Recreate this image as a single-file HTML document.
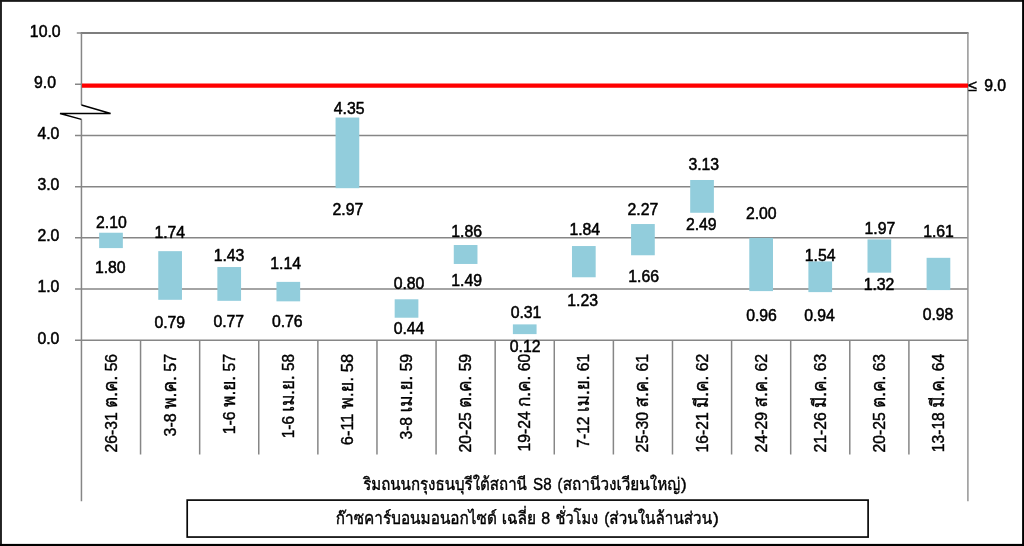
<!DOCTYPE html>
<html lang="th"><head><meta charset="utf-8"><title>CO 8hr S8</title>
<style>
html,body{margin:0;padding:0;background:#fff}
body{width:1024px;height:546px;overflow:hidden}
svg{display:block}
text{font-family:"Liberation Sans","Loma","Noto Sans Thai",sans-serif;fill:#000;stroke:#000;stroke-width:0.4px}
.t{font-size:15.8px;stroke-width:0.5px}
.c{font-size:16px}
.h{font-size:17.3px}
.l{font-size:16px}
.g{stroke:#868686;stroke-width:1.5;fill:none}
</style></head><body>
<svg width="1024" height="546" viewBox="0 0 1024 546">
<rect x="0" y="0" width="1024" height="546" fill="#fff"/>
<rect x="0" y="0" width="1.95" height="546" fill="#222"/>
<rect x="0" y="0" width="1024" height="1.85" fill="#181818"/>
<rect x="1022.1" y="0" width="1.9" height="546" fill="#000"/>
<rect x="0" y="543.9" width="1024" height="2.1" fill="#000"/>

<line class="g" x1="75" y1="340.25" x2="968.0" y2="340.25"/>
<line class="g" x1="75" y1="289.05" x2="968.0" y2="289.05"/>
<line class="g" x1="75" y1="237.85" x2="968.0" y2="237.85"/>
<line class="g" x1="75" y1="186.65" x2="968.0" y2="186.65"/>
<line class="g" x1="75" y1="135.45" x2="968.0" y2="135.45"/>
<line class="g" x1="75" y1="84.25" x2="81.45" y2="84.25"/>
<line x1="76.8" y1="33" x2="81.45" y2="33" stroke="#959595" stroke-width="1.6"/>
<line x1="80.7" y1="32.95" x2="968.6" y2="32.95" stroke="#7e7e7e" stroke-width="2"/>
<line class="g" x1="81.45" y1="33" x2="81.45" y2="105"/>
<line class="g" x1="81.45" y1="119.4" x2="81.45" y2="501.25"/>
<line x1="967.9" y1="33" x2="967.9" y2="501.25" stroke="#959595" stroke-width="1.5"/>
<line class="g" x1="140.55" y1="340.25" x2="140.55" y2="454.5"/>
<line class="g" x1="199.66" y1="340.25" x2="199.66" y2="454.5"/>
<line class="g" x1="258.76" y1="340.25" x2="258.76" y2="454.5"/>
<line class="g" x1="317.86" y1="340.25" x2="317.86" y2="454.5"/>
<line class="g" x1="376.97" y1="340.25" x2="376.97" y2="454.5"/>
<line class="g" x1="436.07" y1="340.25" x2="436.07" y2="454.5"/>
<line class="g" x1="495.17" y1="340.25" x2="495.17" y2="454.5"/>
<line class="g" x1="554.28" y1="340.25" x2="554.28" y2="454.5"/>
<line class="g" x1="613.38" y1="340.25" x2="613.38" y2="454.5"/>
<line class="g" x1="672.48" y1="340.25" x2="672.48" y2="454.5"/>
<line class="g" x1="731.59" y1="340.25" x2="731.59" y2="454.5"/>
<line class="g" x1="790.69" y1="340.25" x2="790.69" y2="454.5"/>
<line class="g" x1="849.79" y1="340.25" x2="849.79" y2="454.5"/>
<line class="g" x1="908.90" y1="340.25" x2="908.90" y2="454.5"/>
<rect x="99.15" y="232.73" width="23.7" height="15.36" fill="#92CDDC"/>
<rect x="158.26" y="251.16" width="23.7" height="48.64" fill="#92CDDC"/>
<rect x="217.36" y="267.03" width="23.7" height="33.79" fill="#92CDDC"/>
<rect x="276.46" y="281.88" width="23.7" height="19.46" fill="#92CDDC"/>
<rect x="335.56" y="117.53" width="23.7" height="70.66" fill="#92CDDC"/>
<rect x="394.67" y="299.29" width="23.7" height="18.43" fill="#92CDDC"/>
<rect x="453.77" y="245.02" width="23.7" height="18.94" fill="#92CDDC"/>
<rect x="512.88" y="324.38" width="23.7" height="9.73" fill="#92CDDC"/>
<rect x="571.98" y="246.04" width="23.7" height="31.23" fill="#92CDDC"/>
<rect x="631.08" y="224.03" width="23.7" height="31.23" fill="#92CDDC"/>
<rect x="690.19" y="179.99" width="23.7" height="32.77" fill="#92CDDC"/>
<rect x="749.29" y="237.85" width="23.7" height="53.25" fill="#92CDDC"/>
<rect x="808.39" y="261.40" width="23.7" height="30.72" fill="#92CDDC"/>
<rect x="867.50" y="239.39" width="23.7" height="33.28" fill="#92CDDC"/>
<rect x="926.60" y="257.82" width="23.7" height="32.26" fill="#92CDDC"/>
<line x1="81.95" y1="85.6" x2="968.0" y2="85.6" stroke="#FF0000" stroke-width="4.2"/>
<polyline points="81.45,105 110.6,113.5 60,113.5 81.45,119.4" fill="none" stroke="#000" stroke-width="1.5" stroke-linejoin="miter"/>
<text class="t" transform="translate(59.40,343.55) scale(1,1)" text-anchor="end">0.0</text>
<text class="t" transform="translate(59.40,292.30) scale(1,1)" text-anchor="end">1.0</text>
<text class="t" transform="translate(59.40,241.05) scale(1,1)" text-anchor="end">2.0</text>
<text class="t" transform="translate(59.40,189.80) scale(1,1)" text-anchor="end">3.0</text>
<text class="t" transform="translate(59.40,138.75) scale(1,1)" text-anchor="end">4.0</text>
<text class="t" transform="translate(56.00,88.10) scale(1,1)" text-anchor="end">9.0</text>
<text class="t" transform="translate(60.60,36.50) scale(1,1)" text-anchor="end">10.0</text>
<text class="t" transform="translate(968.3,91) scale(1,1)" text-anchor="start">≤<tspan x="15.9">9.0</tspan></text>
<text class="t" transform="translate(111.4,228) scale(1,1)" text-anchor="middle">2.10</text>
<text class="t" transform="translate(110.25,272.75) scale(1,1)" text-anchor="middle">1.80</text>
<text class="t" transform="translate(169.75,237.75) scale(1,1)" text-anchor="middle">1.74</text>
<text class="t" transform="translate(169.75,328.25) scale(1,1)" text-anchor="middle">0.79</text>
<text class="t" transform="translate(229,261) scale(1,1)" text-anchor="middle">1.43</text>
<text class="t" transform="translate(228.75,327.25) scale(1,1)" text-anchor="middle">0.77</text>
<text class="t" transform="translate(285.6,269) scale(1,1)" text-anchor="middle">1.14</text>
<text class="t" transform="translate(287.25,326.5) scale(1,1)" text-anchor="middle">0.76</text>
<text class="t" transform="translate(349.2,114) scale(1,1)" text-anchor="middle">4.35</text>
<text class="t" transform="translate(347.9,214.75) scale(1,1)" text-anchor="middle">2.97</text>
<text class="t" transform="translate(409,288.5) scale(1,1)" text-anchor="middle">0.80</text>
<text class="t" transform="translate(409,334) scale(1,1)" text-anchor="middle">0.44</text>
<text class="t" transform="translate(466.6,237) scale(1,1)" text-anchor="middle">1.86</text>
<text class="t" transform="translate(466.6,286) scale(1,1)" text-anchor="middle">1.49</text>
<text class="t" transform="translate(526,317.75) scale(1,1)" text-anchor="middle">0.31</text>
<text class="t" transform="translate(525.1,351.9) scale(1,1)" text-anchor="middle">0.12</text>
<text class="t" transform="translate(584.75,234.5) scale(1,1)" text-anchor="middle">1.84</text>
<text class="t" transform="translate(582.7,305.7) scale(1,1)" text-anchor="middle">1.23</text>
<text class="t" transform="translate(642.9,215) scale(1,1)" text-anchor="middle">2.27</text>
<text class="t" transform="translate(643.6,282.25) scale(1,1)" text-anchor="middle">1.66</text>
<text class="t" transform="translate(703.75,170) scale(1,1)" text-anchor="middle">3.13</text>
<text class="t" transform="translate(701.25,229.5) scale(1,1)" text-anchor="middle">2.49</text>
<text class="t" transform="translate(761.25,218.75) scale(1,1)" text-anchor="middle">2.00</text>
<text class="t" transform="translate(761.5,320.8) scale(1,1)" text-anchor="middle">0.96</text>
<text class="t" transform="translate(820.1,260.75) scale(1,1)" text-anchor="middle">1.54</text>
<text class="t" transform="translate(819.5,320.8) scale(1,1)" text-anchor="middle">0.94</text>
<text class="t" transform="translate(879.9,233.5) scale(1,1)" text-anchor="middle">1.97</text>
<text class="t" transform="translate(879,289.75) scale(1,1)" text-anchor="middle">1.32</text>
<text class="t" transform="translate(938.5,236.5) scale(1,1)" text-anchor="middle">1.61</text>
<text class="t" transform="translate(938,319.5) scale(1,1)" text-anchor="middle">0.98</text>
<text class="c" transform="translate(116.50,353.9) rotate(-90) scale(1,1.06)" text-anchor="end" textLength="98.5" lengthAdjust="spacingAndGlyphs">26-31 <tspan font-size="17.5">ต.ค.</tspan> 56</text>
<text class="c" transform="translate(175.61,353.9) rotate(-90) scale(1,1.06)" text-anchor="end" textLength="82.5" lengthAdjust="spacingAndGlyphs">3-8 <tspan font-size="17.5">พ.ค.</tspan> 57</text>
<text class="c" transform="translate(234.71,353.9) rotate(-90) scale(1,1.06)" text-anchor="end" textLength="80.3" lengthAdjust="spacingAndGlyphs">1-6 <tspan font-size="17.5">พ.ย.</tspan> 57</text>
<text class="c" transform="translate(293.81,353.9) rotate(-90) scale(1,1.06)" text-anchor="end" textLength="84.4" lengthAdjust="spacingAndGlyphs">1-6 <tspan font-size="17.5">เม.ย.</tspan> 58</text>
<text class="c" transform="translate(352.91,353.9) rotate(-90) scale(1,1.06)" text-anchor="end" textLength="91.3" lengthAdjust="spacingAndGlyphs">6-11 <tspan font-size="17.5">พ.ย.</tspan> 58</text>
<text class="c" transform="translate(412.02,353.9) rotate(-90) scale(1,1.06)" text-anchor="end" textLength="85.7" lengthAdjust="spacingAndGlyphs">3-8 <tspan font-size="17.5">เม.ย.</tspan> 59</text>
<text class="c" transform="translate(471.12,353.9) rotate(-90) scale(1,1.06)" text-anchor="end" textLength="98.5" lengthAdjust="spacingAndGlyphs">20-25 <tspan font-size="17.5">ต.ค.</tspan> 59</text>
<text class="c" transform="translate(530.23,353.9) rotate(-90) scale(1,1.06)" text-anchor="end" textLength="97.5" lengthAdjust="spacingAndGlyphs">19-24 <tspan font-size="17.5">ก.ค.</tspan> 60</text>
<text class="c" transform="translate(589.33,353.9) rotate(-90) scale(1,1.06)" text-anchor="end" textLength="93.8" lengthAdjust="spacingAndGlyphs">7-12 <tspan font-size="17.5">เม.ย.</tspan> 61</text>
<text class="c" transform="translate(648.43,353.9) rotate(-90) scale(1,1.06)" text-anchor="end" textLength="98.5" lengthAdjust="spacingAndGlyphs">25-30 <tspan font-size="17.5">ส.ค.</tspan> 61</text>
<text class="c" transform="translate(707.54,353.9) rotate(-90) scale(1,1.06)" text-anchor="end" textLength="98.5" lengthAdjust="spacingAndGlyphs">16-21 <tspan font-size="17.5">มี.ค.</tspan> 62</text>
<text class="c" transform="translate(766.64,353.9) rotate(-90) scale(1,1.06)" text-anchor="end" textLength="98.5" lengthAdjust="spacingAndGlyphs">24-29 <tspan font-size="17.5">ส.ค.</tspan> 62</text>
<text class="c" transform="translate(825.74,353.9) rotate(-90) scale(1,1.06)" text-anchor="end" textLength="98.5" lengthAdjust="spacingAndGlyphs">21-26 <tspan font-size="17.5">มี.ค.</tspan> 63</text>
<text class="c" transform="translate(884.85,353.9) rotate(-90) scale(1,1.06)" text-anchor="end" textLength="98.5" lengthAdjust="spacingAndGlyphs">20-25 <tspan font-size="17.5">ต.ค.</tspan> 63</text>
<text class="c" transform="translate(943.95,353.9) rotate(-90) scale(1,1.06)" text-anchor="end" textLength="98.3" lengthAdjust="spacingAndGlyphs">13-18 <tspan font-size="17.5">มี.ค.</tspan> 64</text>
<text class="h" x="363.13" y="489.8" textLength="163.78" lengthAdjust="spacingAndGlyphs">ริมถนนกรุงธนบุรีใต้สถานี</text>
<text class="l" x="533.10" y="489.8" textLength="18.51" lengthAdjust="spacingAndGlyphs">S8</text>
<text class="l" x="557.57" y="489.8" textLength="4.86" lengthAdjust="spacingAndGlyphs">(</text>
<text class="h" x="562.77" y="489.8" textLength="117.56" lengthAdjust="spacingAndGlyphs">สถานีวงเวียนใหญ่</text>
<text class="l" x="680.98" y="489.8" textLength="5.60" lengthAdjust="spacingAndGlyphs">)</text>
<rect x="187.2" y="500.1" width="680.9" height="36.95" fill="#fff" stroke="#080808" stroke-width="1.7"/>
<text class="h" x="335.82" y="523.6" textLength="161.11" lengthAdjust="spacingAndGlyphs">ก๊าซคาร์บอนมอนอกไซด์</text>
<text class="h" x="501.73" y="523.6" textLength="34.48" lengthAdjust="spacingAndGlyphs">เฉลี่ย</text>
<text class="l" x="541.31" y="523.6" textLength="8.87" lengthAdjust="spacingAndGlyphs">8</text>
<text class="h" x="555.49" y="523.6" textLength="42.76" lengthAdjust="spacingAndGlyphs">ชั่วโมง</text>
<text class="l" x="604.16" y="523.6" textLength="5.12" lengthAdjust="spacingAndGlyphs">(</text>
<text class="h" x="609.37" y="523.6" textLength="102.71" lengthAdjust="spacingAndGlyphs">ส่วนในล้านส่วน</text>
<text class="l" x="712.98" y="523.6" textLength="5.77" lengthAdjust="spacingAndGlyphs">)</text>
</svg></body></html>
